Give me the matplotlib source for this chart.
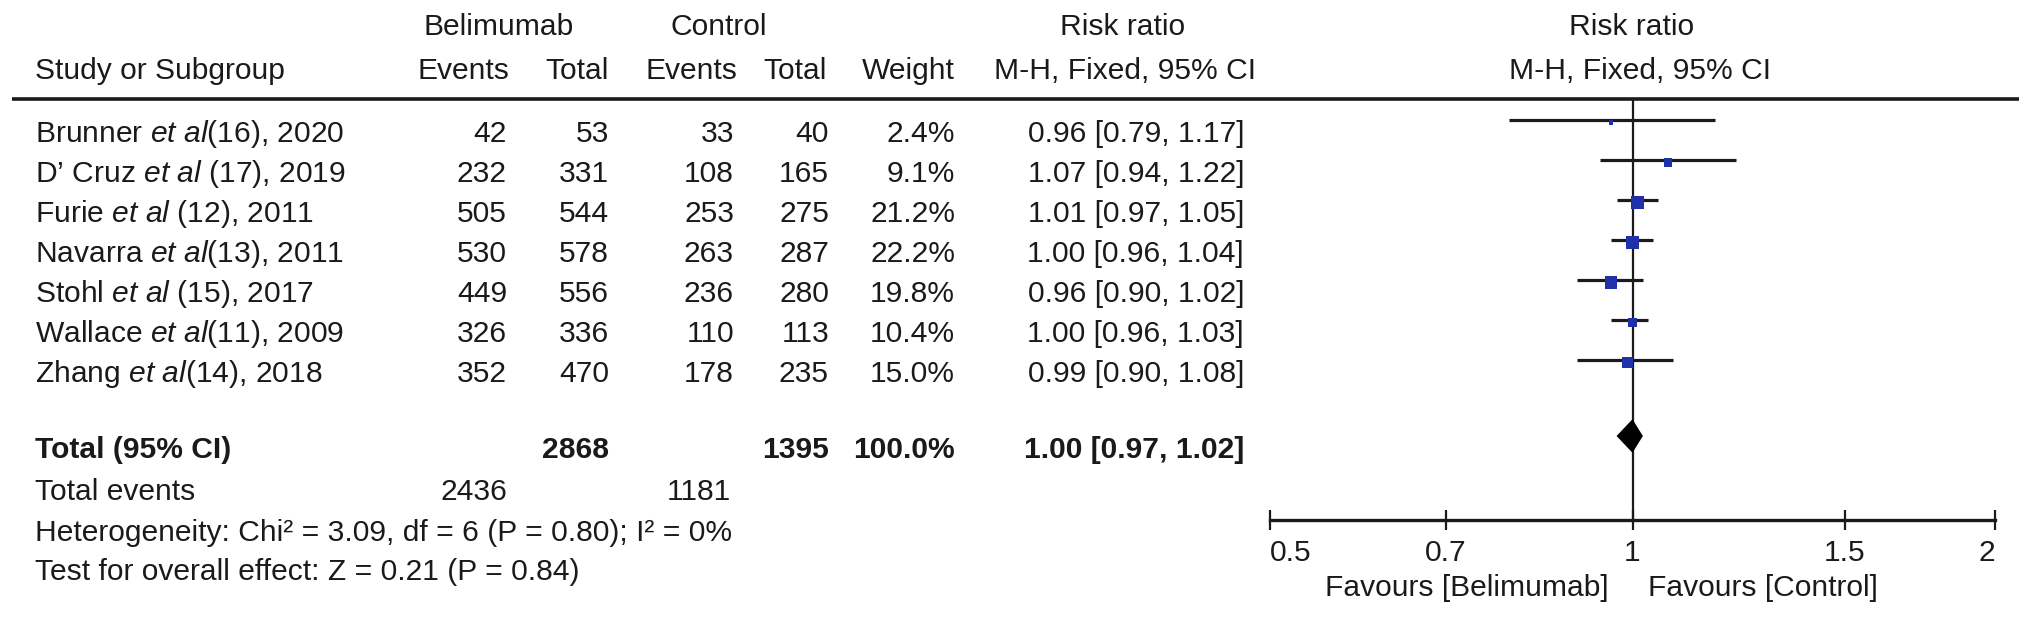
import matplotlib
matplotlib.use("Agg")
import matplotlib.pyplot as plt
import numpy as np

plt.rcParams["font.family"] = ["Liberation Sans", "DejaVu Sans"]
plt.rcParams["mathtext.fontset"] = "custom"
plt.rcParams["mathtext.rm"] = "Liberation Sans"
plt.rcParams["mathtext.it"] = "Liberation Sans:italic"

# --- data ---
authors = ["Brunner", "D\u2019 Cruz", "Furie", "Navarra", "Stohl", "Wallace", "Zhang"]
refs = ["(16), 2020", " (17), 2019", " (12), 2011", "(13), 2011",
        " (15), 2017", "(11), 2009", "(14), 2018"]
bel_events = [42, 232, 505, 530, 449, 326, 352]
bel_total = [53, 331, 544, 578, 556, 336, 470]
ctl_events = [33, 108, 253, 263, 236, 110, 178]
ctl_total = [40, 165, 275, 287, 280, 113, 235]
weights = [2.4, 9.1, 21.2, 22.2, 19.8, 10.4, 15.0]
rr = [0.96, 1.07, 1.01, 1.00, 0.96, 1.00, 0.99]
ci_lo = [0.79, 0.94, 0.97, 0.96, 0.90, 0.96, 0.90]
ci_hi = [1.17, 1.22, 1.05, 1.04, 1.02, 1.03, 1.08]

total_bel, total_ctl = 2868, 1395
total_weight = 100.0
events_bel, events_ctl = 2436, 1181
pooled = (1.00, 0.97, 1.02)
heterogeneity = "Heterogeneity: Chi\u00b2 = 3.09, df = 6 (P = 0.80); I\u00b2 = 0%"
overall = "Test for overall effect: Z = 0.21 (P = 0.84)"
xticks = [0.5, 0.7, 1, 1.5, 2]
xtick_labels = ["0.5", "0.7", "1", "1.5", "2"]

# --- layout (pixels) ---
W, H = 2032, 618
FS = 21.6
INK = "#1a1a1a"
BLUE = "#1f30a8"
ROW0, ROW_H = 120, 40
TOTAL_ROW = 7.9


def row_px(i):
    return ROW0 + ROW_H * i


fig = plt.figure(figsize=(W / 100, H / 100), dpi=100)
fig.patch.set_facecolor("white")

# table overlay in pixel coordinates
tab = fig.add_axes([0, 0, 1, 1])
tab.set_xlim(0, W)
tab.set_ylim(H, 0)
tab.axis("off")


def put(x, y, s, ha="left", bold=False):
    tab.text(x, y, s, ha=ha, va="baseline", fontsize=FS, color=INK,
             fontweight="bold" if bold else "normal")


# header
put(499, 35, "Belimumab", ha="center")
put(719, 35, "Control", ha="center")
put(1123, 35, "Risk ratio", ha="center")
put(1632, 35, "Risk ratio", ha="center")
put(35, 79, "Study or Subgroup")
put(509, 79, "Events", ha="right")
put(609, 79, "Total", ha="right")
put(737, 79, "Events", ha="right")
put(827, 79, "Total", ha="right")
put(955, 79, "Weight", ha="right")
put(1125, 79, "M-H, Fixed, 95% CI", ha="center")
put(1640, 79, "M-H, Fixed, 95% CI", ha="center")
tab.hlines(99, 12, 2019, color=INK, lw=2.6)

# study rows
for i in range(len(authors)):
    y = row_px(i) + 22
    name = authors[i] + r" $\mathit{et\ al}$" + refs[i]
    put(35, y, name)
    put(507, y, str(bel_events[i]), ha="right")
    put(609, y, str(bel_total[i]), ha="right")
    put(734, y, str(ctl_events[i]), ha="right")
    put(829, y, str(ctl_total[i]), ha="right")
    put(955, y, f"{weights[i]:.1f}%", ha="right")
    put(1244, y, f"{rr[i]:.2f} [{ci_lo[i]:.2f}, {ci_hi[i]:.2f}]", ha="right")

# totals
y = row_px(TOTAL_ROW) + 22
put(35, y, "Total (95% CI)", bold=True)
put(609, y, str(total_bel), ha="right", bold=True)
put(829, y, str(total_ctl), ha="right", bold=True)
put(955, y, f"{total_weight:.1f}%", ha="right", bold=True)
put(1244, y, f"{pooled[0]:.2f} [{pooled[1]:.2f}, {pooled[2]:.2f}]", ha="right", bold=True)
put(35, 500, "Total events")
put(507, 500, str(events_bel), ha="right")
put(731, 500, str(events_ctl), ha="right")
put(35, 541, heterogeneity)
put(35, 580, overall)
put(1609, 596, "Favours [Belimumab]", ha="right")
put(1648, 596, "Favours [Control]")

# forest plot
ax = fig.add_axes([1270 / W, 1 - 520 / H, 725 / W, 420 / H])
ax.patch.set_alpha(0)
ax.set_xscale("log")
ax.set_xlim(0.5, 2)
ax.set_ylim((520 - ROW0) / ROW_H, (100 - ROW0) / ROW_H)
for side in ("left", "right", "top"):
    ax.spines[side].set_visible(False)
ax.spines["bottom"].set_linewidth(2.4)
ax.spines["bottom"].set_color(INK)
ax.set_yticks([])
ax.set_xticks(xticks)
ax.set_xticklabels(xtick_labels, fontsize=FS, color=INK)
ax.xaxis.set_minor_locator(matplotlib.ticker.NullLocator())
ax.tick_params(axis="x", direction="inout", length=15, width=1.6, color=INK, pad=6)
labels = ax.get_xticklabels()
labels[0].set_ha("left")
labels[-1].set_ha("right")

ax.axvline(1, color=INK, lw=1.6, zorder=1)
ys = np.arange(len(rr))
ax.hlines(ys, ci_lo, ci_hi, color=INK, lw=2.3, zorder=2)
side_px = 2.76 * np.sqrt(weights)
ax.scatter(rr, ys + 0.06, marker="s", s=(side_px * 0.72) ** 2, color=BLUE,
           linewidths=0, zorder=3)

est, lo, hi = pooled
h = 0.42
ax.fill([lo, est, hi, est], [TOTAL_ROW, TOTAL_ROW - h, TOTAL_ROW, TOTAL_ROW + h],
        color="black", lw=0, zorder=3)

fig.savefig("out.png", dpi=100)
